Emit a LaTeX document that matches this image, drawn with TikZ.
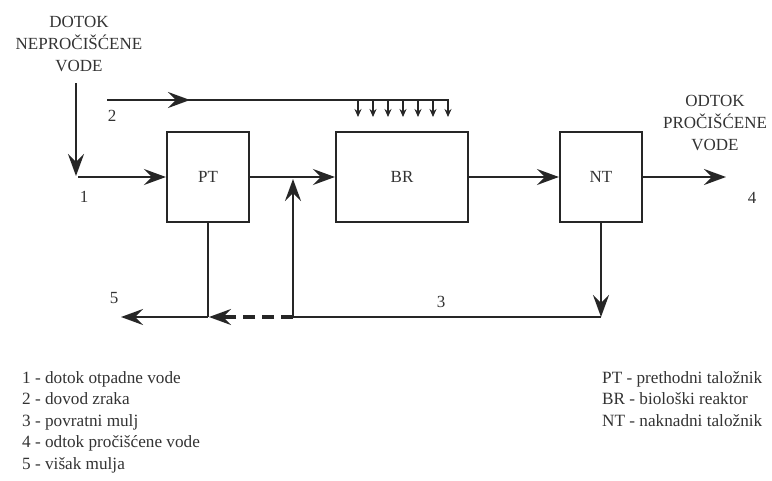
\documentclass[tikz,border=0pt]{standalone}
\usepackage{fontspec}
\setmainfont{Liberation Serif}
\usetikzlibrary{arrows.meta}
\definecolor{ink}{HTML}{262626}
\definecolor{txt}{HTML}{333333}
\tikzset{
  box/.style={draw=ink, line width=2.2pt, minimum width=82pt, minimum height=90pt, inner sep=0pt, text=txt, font=\fontsize{17}{20}\selectfont},
  bigbox/.style={box, minimum width=132pt},
  flow/.style={draw=ink, line width=2.2pt, -{Stealth[length=22pt,width=16pt,inset=8pt]}},
  plain/.style={draw=ink, line width=2.2pt},
  small/.style={draw=ink, line width=1.4pt, -{Stealth[length=8pt,width=7pt]}},
  lbl/.style={text=txt, font=\fontsize{17}{21}\selectfont, inner sep=0pt},
  head/.style={text=txt, font=\fontsize{17}{22}\selectfont, align=center, inner sep=0pt},
  legend/.style={text=txt, font=\fontsize{17.2}{21.5}\selectfont, align=left, inner sep=0pt, anchor=north west},
}
\begin{document}
\begin{tikzpicture}[x=1pt,y=-1pt]
\useasboundingbox[fill=white] (0,0) rectangle (772,480);
% boxes
\node[box] (PT) at (208,177) {PT};
\node[bigbox] (BR) at (402,177) {BR};
\node[box] (NT) at (601,177) {NT};
% headings
\node[head] (inh) at (79,44) {DOTOK\\NEPROČIŠĆENE\\VODE};
\node[head] (outh) at (715,123) {ODTOK\\PROČIŠĆENE\\VODE};
% inflow
\coordinate (inTop) at (76,83);
\coordinate (inBot) at (76,176);
\coordinate (in1) at (78,177);
\draw[flow] (inTop) -- (inBot);
\draw[flow] (in1) -- (PT.west);
\node[lbl] (l1) at (84,197) {1};
% air
\coordinate (airA) at (107,100);
\coordinate (airM) at (190,100);
\coordinate (airB) at (449,100);
\draw[plain] (airA) -- (airB);
\draw[flow] (airA) -- (airM);
\node[lbl] (l2) at (112,116) {2};
\foreach \i [count=\k] in {358,373,388,403,418,433,448}{
  \coordinate (s\k) at (\i,100);
  \coordinate (e\k) at (\i,117);
  \draw[small] (s\k) -- (e\k);
}
% main flow
\draw[flow] (PT.east) -- (BR.west);
\draw[flow] (BR.east) -- (NT.west);
\coordinate (out) at (726,177);
\draw[flow] (NT.east) -- (out);
\node[lbl] (l4) at (752,198) {4};
% return sludge
\coordinate (ntDown) at (601,317);
\coordinate (retUp) at (293,317);
\coordinate (retTip) at (293,179);
\draw[flow] (NT.south -| ntDown) -- (ntDown);
\draw[plain] (ntDown) -- (retUp);
\draw[flow] (retUp) -- (retTip);
\node[lbl] (l3) at (441,302) {3};
% excess sludge
\coordinate (ptDown) at (208,317);
\coordinate (exTip) at (121,317);
\coordinate (dashTip) at (209,317);
\draw[plain] (PT.south) -- (ptDown);
\draw[flow] (ptDown) -- (exTip);
\draw[draw=ink, line width=3.2pt, dash pattern=on 12pt off 7pt] (retUp) -- (224,317);
\draw[flow] (234,317) -- (dashTip);
\node[lbl] (l5) at (114,298) {5};
% legends
\node[legend] (leg1) at (22,371) {1 - dotok otpadne vode\\2 - dovod zraka\\3 - povratni mulj\\4 - odtok pročišćene vode\\5 - višak mulja};
\node[legend] (leg2) at (602,371) {PT - prethodni taložnik\\BR - biološki reaktor\\NT - naknadni taložnik};
\end{tikzpicture}
\end{document}
